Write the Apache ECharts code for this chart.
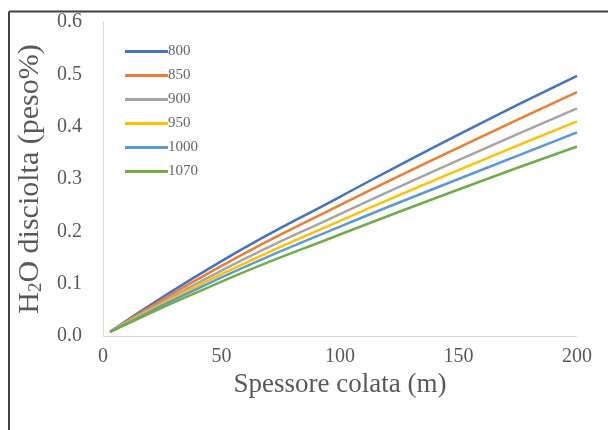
<!DOCTYPE html>
<html>
<head>
<meta charset="utf-8">
<script src="https://cdn.jsdelivr.net/npm/echarts@6/dist/echarts.min.js"></script>
<style>
  html, body { margin: 0; padding: 0; background: #fff; }
  #chart { width: 608px; height: 430px; }
</style>
</head>
<body>
<div id="chart"></div>
<script>
// Lava flow thickness (m) sampled along the x axis
const thickness = [3, 50, 100, 150, 200];

// Dissolved H2O (wt%) for each temperature
const seriesNames = ['800', '850', '900', '950', '1000', '1070'];
const h2o800  = [0.008, 0.143, 0.266, 0.385, 0.497];
const h2o850  = [0.008, 0.134, 0.250, 0.360, 0.466];
const h2o900  = [0.008, 0.125, 0.233, 0.336, 0.435];
const h2o950  = [0.008, 0.118, 0.220, 0.317, 0.410];
const h2o1000 = [0.008, 0.112, 0.209, 0.300, 0.389];
const h2o1070 = [0.008, 0.104, 0.194, 0.280, 0.362];

const yTicks = [0.0, 0.1, 0.2, 0.3, 0.4, 0.5, 0.6];
const xTicks = [0, 50, 100, 150, 200];

const values = [h2o800, h2o850, h2o900, h2o950, h2o1000, h2o1070];
const colors = ['#4472C4', '#ED7D31', '#A5A5A5', '#FFC000', '#5B9BD5', '#70AD47'];

const serif = '"Liberation Serif", "DejaVu Serif", serif';
const textGray = '#595959';

const chart = echarts.init(document.getElementById('chart'));

chart.setOption({
  backgroundColor: '#fff',
  animation: false,
  grid: { left: 103, right: 31, top: 22, bottom: 94 },
  legend: {
    orient: 'vertical',
    left: 120,
    top: 39,
    itemWidth: 43,
    itemHeight: 3,
    itemGap: 9,
    icon: 'rect',
    textStyle: { fontFamily: serif, fontSize: 15, color: '#666', padding: [0, 0, 0, -5] },
    data: seriesNames
  },
  xAxis: {
    type: 'value',
    min: xTicks[0],
    max: xTicks[xTicks.length - 1],
    interval: 50,
    name: 'Spessore colata (m)',
    nameLocation: 'middle',
    nameGap: 34,
    nameTextStyle: { fontFamily: serif, fontSize: 27, color: textGray },
    axisLine: { lineStyle: { color: '#d9d9d9', width: 1 } },
    axisTick: { show: false },
    splitLine: { show: false },
    axisLabel: { fontFamily: serif, fontSize: 20, color: textGray, margin: 11 }
  },
  yAxis: {
    type: 'value',
    min: yTicks[0],
    max: yTicks[yTicks.length - 1],
    interval: 0.1,
    name: '{a|H}{s|2}{a|O disciolta (peso%)}',
    nameLocation: 'middle',
    nameGap: 57,
    nameTextStyle: {
      rich: {
        a: { fontFamily: serif, fontSize: 30, color: textGray },
        s: { fontFamily: serif, fontSize: 19, color: textGray, verticalAlign: 'bottom', padding: [13, 0, 0, 0] }
      }
    },
    axisLine: { show: true, lineStyle: { color: '#d9d9d9', width: 1 } },
    axisTick: { show: false },
    splitLine: { show: false },
    axisLabel: {
      fontFamily: serif, fontSize: 20, color: textGray, margin: 21,
      formatter: v => v.toFixed(1)
    }
  },
  series: seriesNames.map((name, i) => ({
    name: name,
    type: 'line',
    smooth: true,
    symbol: 'none',
    lineStyle: { width: 2.5, color: colors[i] },
    itemStyle: { color: colors[i] },
    data: thickness.map((x, j) => [x, values[i][j]])
  })),
  graphic: [
    { type: 'line', shape: { x1: 9, y1: 11.5, x2: 608, y2: 11.5 }, style: { stroke: '#404040', lineWidth: 2 } },
    { type: 'line', shape: { x1: 9, y1: 11.5, x2: 9, y2: 430 }, style: { stroke: '#404040', lineWidth: 2 } }
  ]
});
</script>
</body>
</html>
